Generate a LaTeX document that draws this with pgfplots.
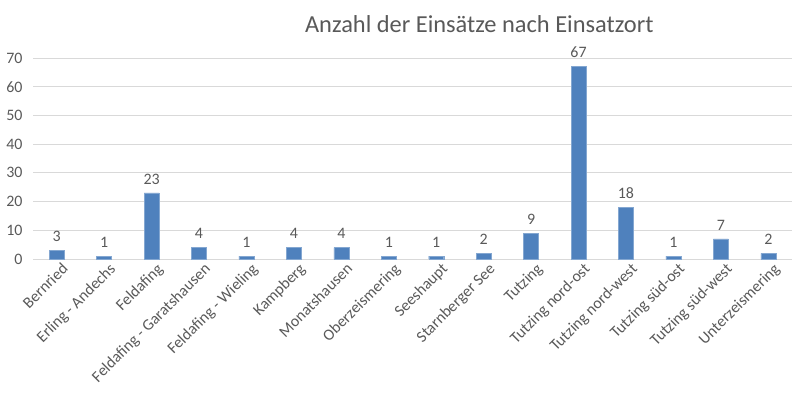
\documentclass[border=0pt]{standalone}
\usepackage{pgfplots}
\pgfplotsset{compat=1.18}
\usepackage{fontspec}
\setmainfont{Carlito}
\definecolor{barblue}{HTML}{4F81BD}
\definecolor{txtgray}{HTML}{595959}
\definecolor{gridgray}{HTML}{D9D9D9}
\begin{document}
\begin{tikzpicture}[x=1bp,y=1bp]
\path[use as bounding box] (0,0) rectangle (807,399);
\begin{axis}[
  at={(33bp,140bp)}, anchor=south west,
  scale only axis, width=759bp, height=201bp,
  xmin=-0.5, xmax=15.5, ymin=0, ymax=70,
  ytick={0,10,...,70},
  ymajorgrids, grid style={gridgray, line width=0.8pt},
  axis line style={draw=none},
  axis x line*=bottom,
  x axis line style={draw=gridgray, line width=0.8pt},
  major tick length=0pt,
  xtick=data,
  xticklabels={Bernried,Erling - Andechs,Feldafing,Feldafing - Garatshausen,Feldafing - Wieling,Kampberg,Monatshausen,Oberzeismering,Seeshaupt,Starnberger See,Tutzing,Tutzing nord-ost,Tutzing nord-west,Tutzing süd-ost,Tutzing süd-west,Unterzeismering},
  x tick label style={rotate=45, anchor=north east, font=\fontsize{16}{18}\selectfont, text=txtgray, inner sep=1pt, yshift=-4bp, xshift=2bp},
  y tick label style={font=\fontsize{16}{18}\selectfont, text=txtgray, xshift=-7bp},
  /pgf/number format/assume math mode=true,
  ybar, bar width=15bp,
  nodes near coords,
  every node near coord/.append style={font=\fontsize{16}{18}\selectfont, text=txtgray, yshift=5bp},
  title={Anzahl der Einsätze nach Einsatzort},
  title style={font=\fontsize{24.5}{28}\selectfont, text=txtgray, at={(0.588,1)}, yshift=16bp},
]
\addplot[fill=barblue, draw=barblue!70!white] coordinates {
(0,3) (1,1) (2,23) (3,4) (4,1) (5,4) (6,4) (7,1) (8,1) (9,2) (10,9) (11,67) (12,18) (13,1) (14,7) (15,2)
};
\end{axis}
\end{tikzpicture}
\end{document}
